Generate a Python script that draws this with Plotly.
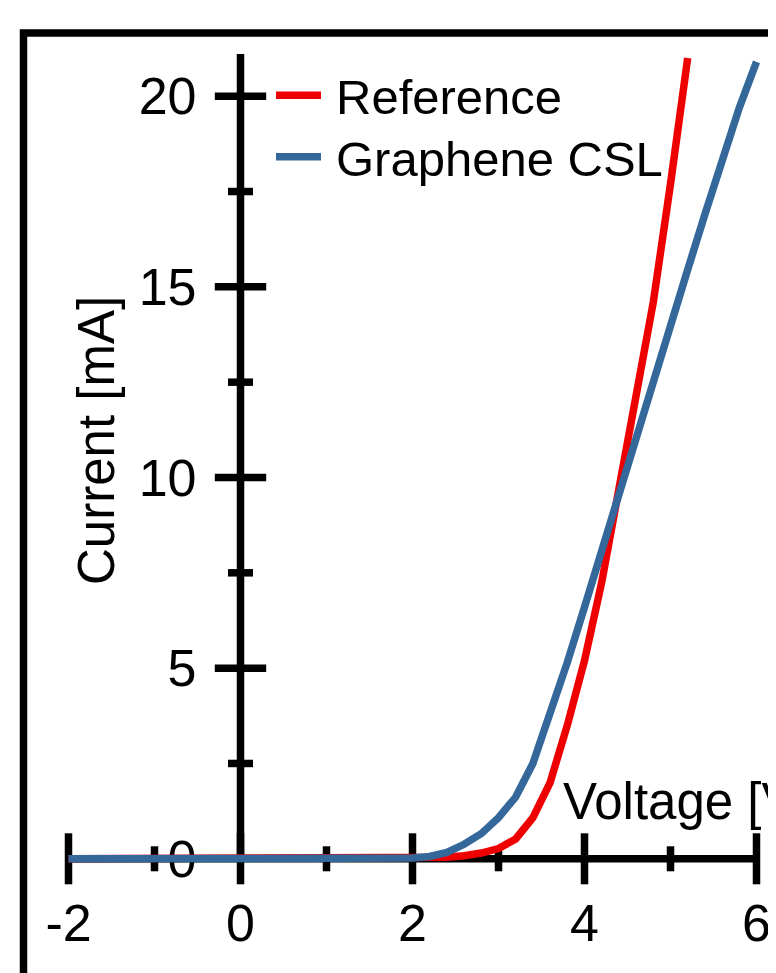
import plotly.graph_objects as go

# ---------------- data ----------------
voltage = [-2.0, -1.8, -1.6, -1.4, -1.2, -1.0, -0.8, -0.6, -0.4, -0.2,
           0.0, 0.2, 0.4, 0.6, 0.8, 1.0, 1.2, 1.4, 1.6, 1.8,
           2.0, 2.2, 2.4, 2.6, 2.8, 3.0, 3.2, 3.4, 3.6, 3.8,
           4.0, 4.2, 4.4, 4.6, 4.8, 5.0, 5.2, 5.4, 5.6, 5.8, 6.0]
current_reference = [0, 0, 0, 0, 0, 0, 0, 0, 0, 0,
                     0, 0, 0, 0, 0, 0, 0, 0, 0, 0,
                     0.0, 0.02, 0.04, 0.08, 0.15, 0.27, 0.52, 1.08, 2.0, 3.5,
                     5.2, 7.25, 9.65, 12.1, 14.6, 17.7, 21.0]
current_graphene = [0, 0, 0, 0, 0, 0, 0, 0, 0, 0,
                    0, 0, 0, 0, 0, 0, 0, 0, 0, 0,
                    0.02, 0.06, 0.17, 0.38, 0.66, 1.08, 1.62, 2.5, 3.8, 5.15,
                    6.6, 8.1, 9.6, 11.05, 12.5, 13.95, 15.45, 16.9, 18.35, 19.7, 20.9]
series_names = ["Reference", "Graphene CSL"]
series_colors = ["#EE0000", "#34679A"]

x_major_ticks = [-2, 0, 2, 4, 6]
x_minor_ticks = [-1, 1, 3, 5]
x_tick_labels = ["-2", "0", "2", "4", "6"]
y_major_ticks = [5, 10, 15, 20]
y_minor_ticks = [2.5, 7.5, 12.5, 17.5]
y_label_values = [0, 5, 10, 15, 20]
y_tick_labels = ["0", "5", "10", "15", "20"]
x_axis_span = [-2, 6]
y_axis_span = [0, 21.11]
x_title = "Voltage [V]"
y_title = "Current [mA]"

# ---------------- geometry ----------------
PAGE_W, PAGE_H = 776, 973
OFF = 8                      # page body margin
W, H = PAGE_W - OFF, PAGE_H - OFF
X0, XS = 240.5 - OFF, 86.0   # figure pixel of x=0, pixels per volt
Y0, YS = 858.8 - OFF, 38.13  # figure pixel of y=0, pixels per mA
FONT = "Arial, 'Liberation Sans', Helvetica, sans-serif"
LW = 7.5


def px_x(p):
    return (p - X0) / XS


xr = [px_x(0), px_x(W)]
yr = [(Y0 - H) / YS, Y0 / YS]


def pap_x(p):
    # p is a page pixel
    return (p - OFF) / W


def pap_y(p):
    return 1 - (p - OFF) / H


fig = go.Figure()
ys = [current_reference, current_graphene]
for name, col, yv in zip(series_names, series_colors, ys):
    fig.add_trace(go.Scatter(
        x=voltage[:len(yv)], y=yv, name=name, mode="lines",
        line=dict(color=col, width=LW), showlegend=False,
        hoverinfo="x+y+name"))

shapes = []
blk = dict(color="black", width=LW)
# axis lines
shapes.append(dict(type="line", xref="x", yref="y", x0=x_axis_span[0], x1=x_axis_span[1],
                   y0=0, y1=0, line=blk, layer="below"))
shapes.append(dict(type="line", xref="x", yref="y", x0=0, x1=0,
                   y0=y_axis_span[0], y1=y_axis_span[1], line=blk, layer="below"))
for v in x_major_ticks:
    shapes.append(dict(type="line", xref="x", yref="y", x0=v, x1=v, ysizemode="pixel",
                       yanchor=0, y0=-25.5, y1=25.5, line=blk, layer="below"))
for v in x_minor_ticks:
    shapes.append(dict(type="line", xref="x", yref="y", x0=v, x1=v, ysizemode="pixel",
                       yanchor=0, y0=-12.5, y1=12.5, line=blk, layer="below"))
for v in y_major_ticks:
    shapes.append(dict(type="line", xref="x", yref="y", y0=v, y1=v, xsizemode="pixel",
                       xanchor=0, x0=-25.7, x1=25.7, line=blk, layer="below"))
for v in y_minor_ticks:
    shapes.append(dict(type="line", xref="x", yref="y", y0=v, y1=v, xsizemode="pixel",
                       xanchor=0, x0=-12.5, x1=12.5, line=blk, layer="below"))
# outer frame (cropped at right and bottom)
shapes.append(dict(type="rect", xref="paper", yref="paper", x0=pap_x(23.5), x1=1.2,
                   y0=-0.2, y1=pap_y(33), line=blk, fillcolor="rgba(0,0,0,0)", layer="below"))
# legend samples
leg_y = [95.2, 156.7]
for col, ly in zip(series_colors, leg_y):
    shapes.append(dict(type="line", xref="paper", yref="paper", x0=pap_x(276), x1=pap_x(321),
                       y0=pap_y(ly), y1=pap_y(ly), line=dict(color=col, width=LW)))

annotations = []
for name, ly in zip(series_names, [97, 158.7]):
    annotations.append(dict(text=name, xref="paper", yref="paper", x=pap_x(334), y=pap_y(ly),
                            xanchor="left", yanchor="middle", showarrow=False,
                            font=dict(family=FONT, size=49, color="black")))
annotations.append(dict(text=y_title, xref="paper", yref="paper", x=pap_x(97), y=pap_y(441),
                        xanchor="center", yanchor="middle", textangle=-90, showarrow=False,
                        font=dict(family=FONT, size=51, color="black")))
annotations.append(dict(text=x_title, xref="paper", yref="paper", x=pap_x(561), y=pap_y(801.5),
                        xanchor="left", yanchor="middle", showarrow=False,
                        font=dict(family=FONT, size=51, color="black")))

xpos = (0 - yr[0]) / (yr[1] - yr[0])
ypos = (0 - xr[0]) / (xr[1] - xr[0])

fig.update_layout(
    width=W, height=H, margin=dict(l=0, r=0, t=0, b=0),
    paper_bgcolor="white", plot_bgcolor="white", template="none",
    showlegend=False, shapes=shapes, annotations=annotations,
    xaxis=dict(range=xr, domain=[0, 1], anchor="free", position=xpos,
               showgrid=False, zeroline=False, showline=False, ticks="",
               tickvals=x_major_ticks, ticktext=x_tick_labels, layer="below traces",
               ticklabelstandoff=29, tickfont=dict(family=FONT, size=52, color="black")),
    yaxis=dict(range=yr, domain=[0, 1], anchor="free", position=ypos,
               showgrid=False, zeroline=False, showline=False, ticks="",
               tickvals=y_label_values, ticktext=y_tick_labels, layer="below traces",
               ticklabelstandoff=44, tickfont=dict(family=FONT, size=52, color="black")),
)

fig.write_html("out.html")
